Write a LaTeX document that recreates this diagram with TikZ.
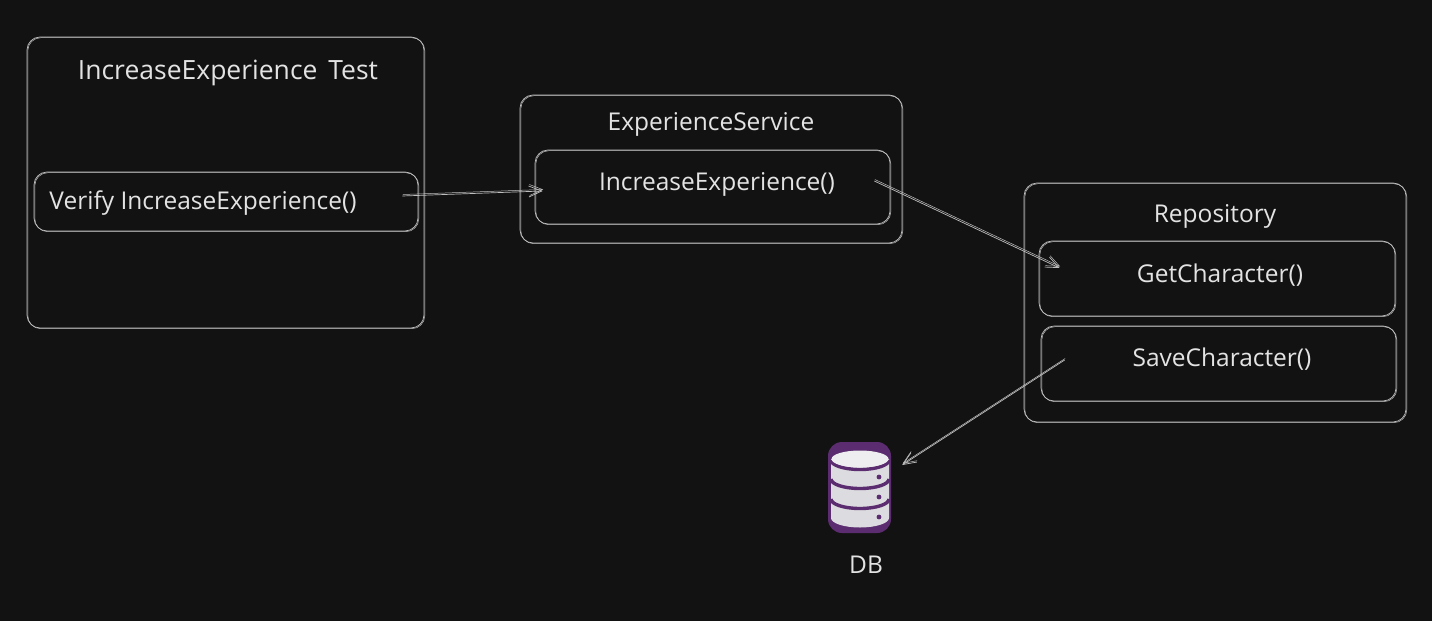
\documentclass[tikz,border=0pt]{standalone}
\usepackage{fontspec}
\setmainfont{Open Sans}
\usetikzlibrary{positioning,calc,arrows.meta}
\definecolor{pagebg}{HTML}{121212}
\definecolor{inkline}{HTML}{BEBEBE}
\definecolor{inktext}{HTML}{E3E3E3}
\definecolor{dbpurple}{HTML}{5B2C6F}
\definecolor{dbwhite}{HTML}{EEEDF0}
\definecolor{dbgrey}{HTML}{DCDBDF}
\tikzset{
  box/.style={draw=inkline,line width=0.7pt,rounded corners=13pt,inner sep=0pt,
    postaction={draw=inkline,line width=0.5pt,transform canvas={xshift=0.8pt,yshift=-0.7pt}}},
  lbl/.style={text=inktext,inner sep=0pt,font=\fontsize{24.5}{29}\selectfont},
  call/.style={draw=inkline,line width=0.7pt,-{Straight Barb[length=13pt,width=11pt]},
    postaction={draw=inkline,line width=0.5pt,transform canvas={xshift=0.5pt,yshift=1.5pt}}}
}
\begin{document}
\begin{tikzpicture}[x=1pt,y=-1pt]
          \useasboundingbox[fill=pagebg] (0,0) rectangle (1432,621);

          % the outer boxes
          \node (testbox) [box,minimum width=397pt,minimum height=291pt] at (225.5,182.5) {};
          \node (servicebox) [box,minimum width=382pt,minimum height=148pt] at (711,169) {};
          \node (repobox) [box,minimum width=382pt,minimum height=239pt] at (1215,302.5) {};

          % the inner boxes
          \node (verifybox) [box,minimum width=384pt,minimum height=59pt] at (226,201.5) {};
          \node (increasebox) [box,minimum width=355pt,minimum height=74pt] at (712.5,187) {};
          \node (getbox) [box,minimum width=356pt,minimum height=75pt] at (1217,278.5) {};
          \node (savebox) [box,minimum width=355pt,minimum height=75pt] at (1218.5,363.5) {};

          % labels
          \node (testlbl) [lbl,font=\fontsize{26.5}{31}\selectfont] at (228,73) {IncreaseExperience \hspace{0.15em}Test};
          \node (verifylbl) [lbl] at (203,203) {Verify IncreaseExperience()};
          \node (servicelbl) [lbl] at (711,124) {ExperienceService};
          \node (increaselbl) [lbl] at (717,184) {IncreaseExperience()};
          \node (repolbl) [lbl] at (1215,216) {Repository};
          \node (getlbl) [lbl] at (1220,275) {GetCharacter()};
          \node (savelbl) [lbl] at (1222,359) {SaveCharacter()};

          % db icon
          \node (db) [fill=dbpurple,rounded corners=14pt,minimum width=63pt,minimum height=91pt,inner sep=0pt] at (859.5,487.5) {};
          \fill[dbgrey] (831,459) -- (831,518) arc[start angle=180,end angle=360,x radius=29,y radius=-9.5] -- (889,459) -- cycle;
          \foreach \y in {460,479,499}
          {\draw[dbpurple,line width=3.4pt] (831,\y) arc[start angle=180,end angle=360,x radius=29,y radius=-9.5];}
          \foreach \y in {477,497,517}
          {\fill[dbpurple] (879,\y) circle (2.4pt);}
          \fill[dbwhite] (860,459) ellipse [x radius=28.5,y radius=8.5];
          \node (dblbl) [lbl] at (866,565) {DB};

          % arrows
          \coordinate (verifyout) at ($(verifybox.east)+(-16,-5.5)$);
          \coordinate (increasein) at ($(increasebox.west)+(8,4)$);
          \coordinate (increaseout) at ($(increasebox.east)+(-16,-6)$);
          \coordinate (getin) at ($(getbox.west)+(21,-10.5)$);
          \coordinate (saveout) at ($(savebox.west)+(24,-3.5)$);
          \coordinate (dbin) at ($(db.east)+(11,-22.5)$);
          \draw[call] (verifyout) -- (increasein);
          \draw[call] (increaseout) -- (getin);
          \draw[call] (saveout) -- (dbin);
\end{tikzpicture}
\end{document}
